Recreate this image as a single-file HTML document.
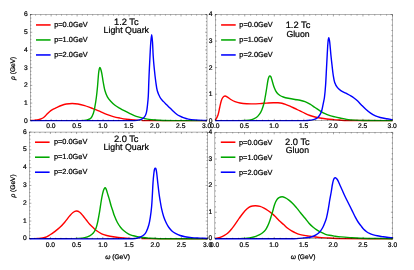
<!DOCTYPE html>
<html><head><meta charset="utf-8"><title>Spectral functions</title>
<style>
html,body{margin:0;padding:0;background:#fff;}
body{width:414px;height:270px;overflow:hidden;}
svg{display:block;will-change:transform;}
text{font-family:"Liberation Sans",sans-serif;fill:#000;text-rendering:geometricPrecision;stroke:#000;stroke-width:0.22px;}
</style></head><body>
<svg width="414" height="270" viewBox="0 0 414 270">
<rect width="414" height="270" fill="#fff"/>
<clipPath id="c1"><path d="M28.35 12.55H209.00V123.80H141.50V119.97H28.35Z"/></clipPath>
<path d="M30.35 120.55C31.57 120.48 32.79 120.47 34.00 120.35C35.47 120.20 36.98 120.10 38.40 119.72C39.94 119.32 41.55 118.82 42.90 118.00C44.15 117.24 45.12 116.03 46.20 115.00C47.32 113.93 48.34 112.74 49.50 111.70C50.28 111.00 51.10 110.32 52.00 109.80C53.43 108.98 55.00 108.39 56.50 107.70C58.10 106.96 59.66 106.12 61.30 105.50C62.92 104.89 64.60 104.31 66.30 104.00C68.23 103.65 70.23 103.50 72.20 103.50C74.13 103.50 76.09 103.68 78.00 104.00C80.26 104.38 82.50 104.94 84.70 105.60C86.94 106.27 89.10 107.20 91.30 108.00C92.97 108.60 94.65 109.16 96.30 109.80C97.55 110.29 98.77 110.87 100.00 111.40C102.23 112.37 104.44 113.41 106.70 114.30C108.87 115.15 111.06 115.96 113.30 116.60C115.50 117.23 117.75 117.66 120.00 118.10C122.22 118.54 124.45 118.95 126.70 119.22C130.02 119.63 133.36 119.90 136.70 120.12C140.46 120.38 144.23 120.62 148.00 120.65C167.66 120.80 187.33 120.65 207.00 120.65" fill="none" stroke="#ff0000" stroke-width="1.40" stroke-linejoin="round" clip-path="url(#c1)"/>
<path d="M79.00 120.65C80.70 120.58 82.42 120.64 84.10 120.45C85.45 120.30 86.81 120.04 88.10 119.62C89.05 119.32 90.18 119.03 90.80 118.30C91.91 116.99 92.70 115.19 93.30 113.50C94.07 111.32 94.47 108.99 94.90 106.70C95.50 103.49 95.98 100.24 96.40 97.00C96.85 93.58 97.18 90.14 97.50 86.70C97.91 82.24 98.15 77.76 98.60 73.30C98.75 71.79 98.97 70.27 99.30 68.80C99.40 68.34 99.69 67.50 99.90 67.50C100.12 67.50 100.45 68.33 100.60 68.80C101.08 70.27 101.50 71.78 101.80 73.30C102.37 76.18 102.68 79.11 103.20 82.00C103.71 84.84 104.11 87.73 104.90 90.50C105.51 92.66 106.33 94.83 107.40 96.80C108.27 98.40 109.48 99.84 110.70 101.20C112.02 102.67 113.44 104.11 115.00 105.30C116.54 106.47 118.32 107.33 120.00 108.30C121.55 109.20 123.12 110.05 124.70 110.90C126.29 111.75 127.89 112.59 129.50 113.40C131.09 114.19 132.66 115.04 134.30 115.70C135.82 116.31 137.42 116.76 139.00 117.20C140.65 117.66 142.33 118.03 144.00 118.40C145.66 118.77 147.32 119.18 149.00 119.42C150.99 119.72 153.00 119.88 155.00 120.03C157.66 120.22 160.33 120.37 163.00 120.45C167.00 120.56 171.00 120.58 175.00 120.60C185.67 120.65 196.33 120.63 207.00 120.65" fill="none" stroke="#00a800" stroke-width="1.40" stroke-linejoin="round" clip-path="url(#c1)"/>
<path d="M30.35 120.65C63.57 120.65 96.79 120.74 130.00 120.65C132.34 120.64 134.70 120.65 137.00 120.35C138.63 120.14 140.34 119.82 141.80 119.12C142.91 118.60 143.99 117.70 144.70 116.70C145.52 115.55 146.07 114.10 146.40 112.70C147.00 110.20 147.21 107.58 147.50 105.00C147.84 102.01 148.13 99.01 148.30 96.00C148.56 91.34 148.62 86.67 148.80 82.00C148.98 77.33 149.18 72.67 149.40 68.00C149.58 64.00 149.78 60.00 150.00 56.00C150.25 51.33 150.43 46.66 150.80 42.00C150.99 39.56 151.42 34.70 151.70 34.70C151.98 34.70 152.33 39.56 152.50 42.00C152.83 46.66 152.90 51.34 153.20 56.00C153.46 60.00 153.80 64.01 154.20 68.00C154.67 72.67 155.17 77.35 155.80 82.00C156.20 84.95 156.51 87.95 157.30 90.80C157.94 93.12 158.92 95.42 160.10 97.50C160.92 98.95 162.17 100.15 163.30 101.40C164.37 102.59 165.56 103.68 166.70 104.80C167.79 105.88 168.91 106.92 170.00 108.00C171.11 109.09 172.16 110.24 173.30 111.30C174.39 112.31 175.50 113.32 176.70 114.20C177.73 114.96 178.87 115.60 180.00 116.20C181.07 116.77 182.16 117.30 183.30 117.70C184.93 118.27 186.60 118.80 188.30 119.12C190.50 119.54 192.76 119.75 195.00 119.92C198.99 120.23 203.00 120.34 207.00 120.55" fill="none" stroke="#0000ff" stroke-width="1.40" stroke-linejoin="round"/>
<rect x="30.35" y="14.55" width="176.65" height="106.25" fill="none" stroke="#000" stroke-width="0.30"/>
<path d="M30.35 120.80v-1.10M30.35 14.55v1.10M35.55 120.80v-1.10M35.55 14.55v1.10M40.74 120.80v-1.10M40.74 14.55v1.10M45.94 120.80v-1.10M45.94 14.55v1.10M51.13 120.80v-1.90M51.13 14.55v1.90M56.33 120.80v-1.10M56.33 14.55v1.10M61.52 120.80v-1.10M61.52 14.55v1.10M66.72 120.80v-1.10M66.72 14.55v1.10M71.91 120.80v-1.10M71.91 14.55v1.10M77.11 120.80v-1.90M77.11 14.55v1.90M82.31 120.80v-1.10M82.31 14.55v1.10M87.50 120.80v-1.10M87.50 14.55v1.10M92.70 120.80v-1.10M92.70 14.55v1.10M97.89 120.80v-1.10M97.89 14.55v1.10M103.09 120.80v-1.90M103.09 14.55v1.90M108.28 120.80v-1.10M108.28 14.55v1.10M113.48 120.80v-1.10M113.48 14.55v1.10M118.68 120.80v-1.10M118.68 14.55v1.10M123.87 120.80v-1.10M123.87 14.55v1.10M129.07 120.80v-1.90M129.07 14.55v1.90M134.26 120.80v-1.10M134.26 14.55v1.10M139.46 120.80v-1.10M139.46 14.55v1.10M144.65 120.80v-1.10M144.65 14.55v1.10M149.85 120.80v-1.10M149.85 14.55v1.10M155.04 120.80v-1.90M155.04 14.55v1.90M160.24 120.80v-1.10M160.24 14.55v1.10M165.44 120.80v-1.10M165.44 14.55v1.10M170.63 120.80v-1.10M170.63 14.55v1.10M175.83 120.80v-1.10M175.83 14.55v1.10M181.02 120.80v-1.90M181.02 14.55v1.90M186.22 120.80v-1.10M186.22 14.55v1.10M191.41 120.80v-1.10M191.41 14.55v1.10M196.61 120.80v-1.10M196.61 14.55v1.10M201.80 120.80v-1.10M201.80 14.55v1.10M207.00 120.80v-1.90M207.00 14.55v1.90M30.35 120.80h1.90M207.00 120.80h-1.90M30.35 117.26h1.10M207.00 117.26h-1.10M30.35 113.72h1.10M207.00 113.72h-1.10M30.35 110.17h1.10M207.00 110.17h-1.10M30.35 106.63h1.10M207.00 106.63h-1.10M30.35 103.09h1.90M207.00 103.09h-1.90M30.35 99.55h1.10M207.00 99.55h-1.10M30.35 96.01h1.10M207.00 96.01h-1.10M30.35 92.47h1.10M207.00 92.47h-1.10M30.35 88.92h1.10M207.00 88.92h-1.10M30.35 85.38h1.90M207.00 85.38h-1.90M30.35 81.84h1.10M207.00 81.84h-1.10M30.35 78.30h1.10M207.00 78.30h-1.10M30.35 74.76h1.10M207.00 74.76h-1.10M30.35 71.22h1.10M207.00 71.22h-1.10M30.35 67.67h1.90M207.00 67.67h-1.90M30.35 64.13h1.10M207.00 64.13h-1.10M30.35 60.59h1.10M207.00 60.59h-1.10M30.35 57.05h1.10M207.00 57.05h-1.10M30.35 53.51h1.10M207.00 53.51h-1.10M30.35 49.97h1.90M207.00 49.97h-1.90M30.35 46.42h1.10M207.00 46.42h-1.10M30.35 42.88h1.10M207.00 42.88h-1.10M30.35 39.34h1.10M207.00 39.34h-1.10M30.35 35.80h1.10M207.00 35.80h-1.10M30.35 32.26h1.90M207.00 32.26h-1.90M30.35 28.72h1.10M207.00 28.72h-1.10M30.35 25.17h1.10M207.00 25.17h-1.10M30.35 21.63h1.10M207.00 21.63h-1.10M30.35 18.09h1.10M207.00 18.09h-1.10M30.35 14.55h1.90M207.00 14.55h-1.90" fill="none" stroke="#000" stroke-width="0.35"/>
<text x="50.83" y="128.25" font-size="6.70" text-anchor="middle">0.0</text>
<text x="76.81" y="128.25" font-size="6.70" text-anchor="middle">0.5</text>
<text x="102.79" y="128.25" font-size="6.70" text-anchor="middle">1.0</text>
<text x="128.77" y="128.25" font-size="6.70" text-anchor="middle">1.5</text>
<text x="154.74" y="128.25" font-size="6.70" text-anchor="middle">2.0</text>
<text x="180.72" y="128.25" font-size="6.70" text-anchor="middle">2.5</text>
<text x="206.70" y="128.25" font-size="6.70" text-anchor="middle">3.0</text>
<text x="27.75" y="122.71" font-size="6.70" text-anchor="end">0</text>
<text x="27.75" y="105.00" font-size="6.70" text-anchor="end">1</text>
<text x="27.75" y="87.30" font-size="6.70" text-anchor="end">2</text>
<text x="27.75" y="69.59" font-size="6.70" text-anchor="end">3</text>
<text x="27.75" y="51.88" font-size="6.70" text-anchor="end">4</text>
<text x="27.75" y="34.17" font-size="6.70" text-anchor="end">5</text>
<text x="27.75" y="16.46" font-size="6.70" text-anchor="end">6</text>
<path d="M36.00 24.95H50.60" stroke="#ff0000" stroke-width="1.55"/>
<text x="54.20" y="27.26" font-size="7.40">p=0.0GeV</text>
<path d="M36.00 39.95H50.60" stroke="#00a800" stroke-width="1.55"/>
<text x="54.20" y="42.26" font-size="7.40">p=1.0GeV</text>
<path d="M36.00 54.95H50.60" stroke="#0000ff" stroke-width="1.55"/>
<text x="54.20" y="57.26" font-size="7.40">p=2.0GeV</text>
<text x="126.30" y="24.70" font-size="9.30" text-anchor="middle">1.2 Tc</text>
<text x="126.30" y="32.70" font-size="8.80" text-anchor="middle">Light Quark</text>
<text transform="translate(15.30 68.30) rotate(-90)" font-size="6.60" text-anchor="middle"><tspan font-style="italic">ρ</tspan> (GeV)</text>
<clipPath id="c2"><path d="M213.20 12.55H394.50V123.70H314.50V119.97H213.20Z"/></clipPath>
<path d="M215.20 120.75C216.13 118.83 217.32 117.01 218.00 115.00C218.82 112.59 219.12 110.00 219.70 107.50C220.22 105.26 220.61 102.98 221.30 100.80C221.68 99.61 222.16 98.36 222.90 97.40C223.40 96.76 224.26 96.05 225.00 96.00C225.80 95.95 226.72 96.63 227.50 97.10C228.66 97.80 229.64 98.80 230.80 99.50C232.14 100.30 233.54 101.05 235.00 101.60C236.61 102.21 238.30 102.68 240.00 103.00C242.20 103.41 244.46 103.65 246.70 103.80C248.89 103.95 251.10 103.93 253.30 103.90C255.53 103.87 257.77 103.73 260.00 103.60C262.24 103.47 264.47 103.25 266.70 103.10C268.90 102.95 271.10 102.76 273.30 102.70C274.87 102.66 276.44 102.69 278.00 102.80C279.34 102.89 280.69 103.01 282.00 103.30C283.36 103.61 284.68 104.12 286.00 104.60C287.35 105.09 288.68 105.63 290.00 106.20C291.68 106.93 293.33 107.73 295.00 108.50C296.67 109.27 298.35 109.99 300.00 110.80C301.69 111.63 303.30 112.60 305.00 113.40C306.63 114.17 308.30 114.89 310.00 115.50C311.63 116.09 313.31 116.58 315.00 117.00C316.65 117.41 318.33 117.71 320.00 118.00C322.23 118.39 324.46 118.75 326.70 119.03C328.89 119.29 331.10 119.45 333.30 119.62C335.20 119.78 337.10 119.91 339.00 120.03C341.57 120.18 344.13 120.42 346.70 120.45C361.96 120.63 377.23 120.58 392.50 120.65" fill="none" stroke="#ff0000" stroke-width="1.40" stroke-linejoin="round" clip-path="url(#c2)"/>
<path d="M239.00 120.65C240.83 120.62 242.67 120.68 244.50 120.55C246.67 120.40 248.91 120.36 251.00 119.83C252.85 119.35 254.72 118.55 256.30 117.50C257.55 116.67 258.60 115.42 259.50 114.20C260.44 112.92 261.19 111.47 261.80 110.00C262.69 107.84 263.41 105.57 264.00 103.30C264.54 101.24 264.82 99.10 265.20 97.00C265.62 94.67 266.02 92.34 266.40 90.00C266.95 86.67 267.35 83.31 268.00 80.00C268.22 78.91 268.54 77.79 269.00 76.80C269.17 76.42 269.59 75.92 269.90 75.90C270.19 75.88 270.61 76.36 270.80 76.70C271.21 77.46 271.43 78.36 271.70 79.20C272.57 81.96 273.19 84.80 274.20 87.50C274.85 89.24 275.62 91.02 276.70 92.50C277.56 93.68 278.79 94.67 280.00 95.50C280.99 96.17 282.16 96.62 283.30 97.00C284.93 97.55 286.62 97.94 288.30 98.30C290.52 98.77 292.76 99.14 295.00 99.50C296.66 99.77 298.36 99.85 300.00 100.20C301.69 100.55 303.40 100.96 305.00 101.60C306.73 102.29 308.38 103.25 310.00 104.20C311.72 105.21 313.33 106.40 315.00 107.50C316.67 108.60 318.30 109.75 320.00 110.80C321.64 111.81 323.27 112.87 325.00 113.70C326.60 114.47 328.30 115.06 330.00 115.60C331.64 116.12 333.33 116.50 335.00 116.90C336.66 117.30 338.33 117.65 340.00 118.00C342.23 118.46 344.45 119.01 346.70 119.33C349.45 119.71 352.23 119.92 355.00 120.12C357.76 120.33 360.53 120.51 363.30 120.55C373.03 120.69 382.77 120.62 392.50 120.65" fill="none" stroke="#00a800" stroke-width="1.40" stroke-linejoin="round" clip-path="url(#c2)"/>
<path d="M215.20 120.65C243.47 120.65 271.73 120.71 300.00 120.65C302.50 120.64 305.02 120.68 307.50 120.45C309.78 120.24 312.12 119.95 314.30 119.33C315.55 118.97 316.82 118.33 317.80 117.50C318.82 116.63 319.64 115.40 320.30 114.20C321.01 112.90 321.50 111.44 321.90 110.00C322.50 107.81 322.85 105.54 323.30 103.30C323.72 101.20 324.23 99.12 324.50 97.00C325.00 93.02 325.32 89.01 325.60 85.00C325.99 79.44 326.20 73.87 326.50 68.30C326.74 63.87 326.95 59.43 327.20 55.00C327.45 50.67 327.60 46.32 328.00 42.00C328.13 40.55 328.52 37.70 328.80 37.70C329.08 37.70 329.52 40.55 329.70 42.00C330.22 46.31 330.47 50.67 330.90 55.00C331.23 58.34 331.62 61.67 332.00 65.00C332.38 68.34 332.69 71.68 333.20 75.00C333.59 77.52 333.89 80.11 334.70 82.50C335.32 84.34 336.33 86.15 337.50 87.70C338.37 88.85 339.59 89.80 340.80 90.60C342.35 91.63 344.14 92.32 345.80 93.20C347.47 94.09 349.17 94.94 350.80 95.90C351.90 96.54 352.98 97.23 354.00 98.00C355.28 98.97 356.53 100.00 357.70 101.10C359.07 102.40 360.27 103.86 361.60 105.20C362.97 106.59 364.34 108.00 365.80 109.30C367.34 110.67 368.91 112.04 370.60 113.20C372.11 114.24 373.73 115.15 375.40 115.90C376.93 116.59 378.57 117.08 380.20 117.50C382.34 118.05 384.52 118.42 386.70 118.80C388.62 119.13 390.57 119.35 392.50 119.62" fill="none" stroke="#0000ff" stroke-width="1.40" stroke-linejoin="round"/>
<rect x="215.20" y="14.55" width="177.30" height="106.15" fill="none" stroke="#000" stroke-width="0.30"/>
<path d="M215.20 120.70v-1.90M215.20 14.55v1.90M221.11 120.70v-1.10M221.11 14.55v1.10M227.02 120.70v-1.10M227.02 14.55v1.10M232.93 120.70v-1.10M232.93 14.55v1.10M238.84 120.70v-1.10M238.84 14.55v1.10M244.75 120.70v-1.90M244.75 14.55v1.90M250.66 120.70v-1.10M250.66 14.55v1.10M256.57 120.70v-1.10M256.57 14.55v1.10M262.48 120.70v-1.10M262.48 14.55v1.10M268.39 120.70v-1.10M268.39 14.55v1.10M274.30 120.70v-1.90M274.30 14.55v1.90M280.21 120.70v-1.10M280.21 14.55v1.10M286.12 120.70v-1.10M286.12 14.55v1.10M292.03 120.70v-1.10M292.03 14.55v1.10M297.94 120.70v-1.10M297.94 14.55v1.10M303.85 120.70v-1.90M303.85 14.55v1.90M309.76 120.70v-1.10M309.76 14.55v1.10M315.67 120.70v-1.10M315.67 14.55v1.10M321.58 120.70v-1.10M321.58 14.55v1.10M327.49 120.70v-1.10M327.49 14.55v1.10M333.40 120.70v-1.90M333.40 14.55v1.90M339.31 120.70v-1.10M339.31 14.55v1.10M345.22 120.70v-1.10M345.22 14.55v1.10M351.13 120.70v-1.10M351.13 14.55v1.10M357.04 120.70v-1.10M357.04 14.55v1.10M362.95 120.70v-1.90M362.95 14.55v1.90M368.86 120.70v-1.10M368.86 14.55v1.10M374.77 120.70v-1.10M374.77 14.55v1.10M380.68 120.70v-1.10M380.68 14.55v1.10M386.59 120.70v-1.10M386.59 14.55v1.10M392.50 120.70v-1.90M392.50 14.55v1.90M215.20 120.70h1.90M392.50 120.70h-1.90M215.20 115.39h1.10M392.50 115.39h-1.10M215.20 110.09h1.10M392.50 110.09h-1.10M215.20 104.78h1.10M392.50 104.78h-1.10M215.20 99.47h1.10M392.50 99.47h-1.10M215.20 94.16h1.90M392.50 94.16h-1.90M215.20 88.86h1.10M392.50 88.86h-1.10M215.20 83.55h1.10M392.50 83.55h-1.10M215.20 78.24h1.10M392.50 78.24h-1.10M215.20 72.93h1.10M392.50 72.93h-1.10M215.20 67.62h1.90M392.50 67.62h-1.90M215.20 62.32h1.10M392.50 62.32h-1.10M215.20 57.01h1.10M392.50 57.01h-1.10M215.20 51.70h1.10M392.50 51.70h-1.10M215.20 46.40h1.10M392.50 46.40h-1.10M215.20 41.09h1.90M392.50 41.09h-1.90M215.20 35.78h1.10M392.50 35.78h-1.10M215.20 30.47h1.10M392.50 30.47h-1.10M215.20 25.16h1.10M392.50 25.16h-1.10M215.20 19.86h1.10M392.50 19.86h-1.10M215.20 14.55h1.90M392.50 14.55h-1.90" fill="none" stroke="#000" stroke-width="0.35"/>
<text x="214.90" y="128.25" font-size="6.70" text-anchor="middle">0.0</text>
<text x="244.45" y="128.25" font-size="6.70" text-anchor="middle">0.5</text>
<text x="274.00" y="128.25" font-size="6.70" text-anchor="middle">1.0</text>
<text x="303.55" y="128.25" font-size="6.70" text-anchor="middle">1.5</text>
<text x="333.10" y="128.25" font-size="6.70" text-anchor="middle">2.0</text>
<text x="362.65" y="128.25" font-size="6.70" text-anchor="middle">2.5</text>
<text x="392.20" y="128.25" font-size="6.70" text-anchor="middle">3.0</text>
<text x="212.60" y="122.61" font-size="6.70" text-anchor="end">0</text>
<text x="212.60" y="96.07" font-size="6.70" text-anchor="end">1</text>
<text x="212.60" y="69.54" font-size="6.70" text-anchor="end">2</text>
<text x="212.60" y="43.00" font-size="6.70" text-anchor="end">3</text>
<text x="212.60" y="16.46" font-size="6.70" text-anchor="end">4</text>
<path d="M221.10 24.95H235.70" stroke="#ff0000" stroke-width="1.55"/>
<text x="239.30" y="27.26" font-size="7.40">p=0.0GeV</text>
<path d="M221.10 39.95H235.70" stroke="#00a800" stroke-width="1.55"/>
<text x="239.30" y="42.26" font-size="7.40">p=1.0GeV</text>
<path d="M221.10 54.95H235.70" stroke="#0000ff" stroke-width="1.55"/>
<text x="239.30" y="57.26" font-size="7.40">p=2.0GeV</text>
<text x="298.00" y="27.70" font-size="9.30" text-anchor="middle">1.2 Tc</text>
<text x="298.00" y="36.70" font-size="8.70" text-anchor="middle">Gluon</text>
<clipPath id="c3"><path d="M27.45 130.05H209.55V241.85H141.50V238.12H27.45Z"/></clipPath>
<path d="M29.45 238.80C30.97 238.77 32.48 238.75 34.00 238.70C35.33 238.65 36.67 238.65 38.00 238.50C40.24 238.25 42.56 238.14 44.70 237.50C46.46 236.97 48.10 235.94 49.70 235.00C51.43 233.98 53.08 232.80 54.70 231.60C56.41 230.33 58.15 229.06 59.70 227.60C61.48 225.92 63.11 224.06 64.70 222.20C66.44 220.16 67.96 217.93 69.70 215.90C70.73 214.70 71.75 213.43 73.00 212.50C73.95 211.79 75.18 211.05 76.30 211.00C77.41 210.95 78.75 211.52 79.70 212.20C80.98 213.12 81.95 214.56 83.00 215.80C84.15 217.16 85.20 218.60 86.30 220.00C87.43 221.44 88.48 222.94 89.70 224.30C90.82 225.54 92.07 226.66 93.30 227.80C94.41 228.83 95.48 229.91 96.70 230.80C98.28 231.95 99.94 233.07 101.70 233.90C103.27 234.64 105.01 235.08 106.70 235.50C108.87 236.04 111.08 236.47 113.30 236.80C116.62 237.30 119.96 237.70 123.30 238.00C126.62 238.30 129.96 238.57 133.30 238.60C158.04 238.83 182.80 238.73 207.55 238.80" fill="none" stroke="#ff0000" stroke-width="1.40" stroke-linejoin="round" clip-path="url(#c3)"/>
<path d="M72.00 238.80C74.00 238.70 76.01 238.69 78.00 238.50C80.24 238.29 82.52 238.10 84.70 237.60C86.42 237.20 88.16 236.63 89.70 235.80C91.02 235.09 92.33 234.14 93.30 233.00C94.40 231.70 95.27 230.10 95.90 228.50C96.77 226.27 97.28 223.86 97.80 221.50C98.51 218.26 99.05 214.98 99.60 211.70C100.08 208.81 100.44 205.90 100.90 203.00C101.24 200.86 101.58 198.72 102.00 196.60C102.38 194.72 102.77 192.84 103.30 191.00C103.54 190.17 103.88 189.34 104.30 188.60C104.48 188.28 104.83 187.80 105.10 187.80C105.37 187.80 105.73 188.27 105.90 188.60C106.29 189.34 106.53 190.19 106.80 191.00C107.23 192.32 107.59 193.67 108.00 195.00C108.46 196.50 108.97 197.99 109.40 199.50C109.97 201.49 110.41 203.52 111.00 205.50C111.51 207.19 112.15 208.83 112.70 210.50C113.19 211.99 113.53 213.54 114.10 215.00C115.09 217.54 116.13 220.09 117.40 222.50C118.33 224.26 119.47 225.93 120.70 227.50C121.64 228.70 122.73 229.82 123.90 230.80C125.40 232.05 126.98 233.31 128.70 234.20C130.21 234.98 131.94 235.35 133.60 235.80C135.71 236.38 137.84 236.96 140.00 237.30C142.74 237.73 145.53 237.90 148.30 238.10C151.86 238.36 155.43 238.66 159.00 238.70C175.18 238.89 191.37 238.77 207.55 238.80" fill="none" stroke="#00a800" stroke-width="1.40" stroke-linejoin="round" clip-path="url(#c3)"/>
<path d="M29.45 238.80C62.30 238.80 95.15 238.89 128.00 238.80C130.44 238.79 132.91 238.85 135.30 238.50C137.04 238.25 138.77 237.67 140.40 237.00C141.61 236.50 142.84 235.86 143.80 235.00C144.81 234.10 145.69 232.92 146.30 231.70C147.36 229.59 148.17 227.29 148.80 225.00C149.54 222.29 149.97 219.48 150.40 216.70C150.91 213.38 151.29 210.04 151.60 206.70C151.93 203.14 152.09 199.57 152.30 196.00C152.56 191.67 152.70 187.33 153.00 183.00C153.23 179.66 153.52 176.32 153.90 173.00C154.05 171.66 154.24 170.28 154.60 169.00C154.70 168.64 155.07 168.10 155.30 168.10C155.53 168.10 155.90 168.64 156.00 169.00C156.36 170.28 156.53 171.66 156.70 173.00C157.13 176.32 157.42 179.67 157.80 183.00C158.22 186.67 158.61 190.34 159.10 194.00C159.41 196.34 159.81 198.67 160.20 201.00C160.61 203.44 160.96 205.89 161.50 208.30C162.13 211.12 162.80 213.95 163.70 216.70C164.44 218.95 165.37 221.16 166.40 223.30C167.10 224.76 167.94 226.19 168.90 227.50C169.87 228.83 170.98 230.11 172.20 231.20C173.14 232.04 174.28 232.70 175.40 233.30C176.95 234.13 178.55 234.91 180.20 235.50C181.75 236.05 183.38 236.40 185.00 236.70C187.21 237.10 189.46 237.39 191.70 237.60C194.46 237.86 197.23 237.94 200.00 238.10C202.52 238.24 205.03 238.37 207.55 238.50" fill="none" stroke="#0000ff" stroke-width="1.40" stroke-linejoin="round"/>
<rect x="29.45" y="132.05" width="178.10" height="106.80" fill="none" stroke="#000" stroke-width="0.30"/>
<path d="M29.45 238.85v-1.10M29.45 132.05v1.10M34.69 238.85v-1.10M34.69 132.05v1.10M39.93 238.85v-1.10M39.93 132.05v1.10M45.16 238.85v-1.10M45.16 132.05v1.10M50.40 238.85v-1.90M50.40 132.05v1.90M55.64 238.85v-1.10M55.64 132.05v1.10M60.88 238.85v-1.10M60.88 132.05v1.10M66.12 238.85v-1.10M66.12 132.05v1.10M71.36 238.85v-1.10M71.36 132.05v1.10M76.59 238.85v-1.90M76.59 132.05v1.90M81.83 238.85v-1.10M81.83 132.05v1.10M87.07 238.85v-1.10M87.07 132.05v1.10M92.31 238.85v-1.10M92.31 132.05v1.10M97.55 238.85v-1.10M97.55 132.05v1.10M102.79 238.85v-1.90M102.79 132.05v1.90M108.02 238.85v-1.10M108.02 132.05v1.10M113.26 238.85v-1.10M113.26 132.05v1.10M118.50 238.85v-1.10M118.50 132.05v1.10M123.74 238.85v-1.10M123.74 132.05v1.10M128.98 238.85v-1.90M128.98 132.05v1.90M134.21 238.85v-1.10M134.21 132.05v1.10M139.45 238.85v-1.10M139.45 132.05v1.10M144.69 238.85v-1.10M144.69 132.05v1.10M149.93 238.85v-1.10M149.93 132.05v1.10M155.17 238.85v-1.90M155.17 132.05v1.90M160.41 238.85v-1.10M160.41 132.05v1.10M165.64 238.85v-1.10M165.64 132.05v1.10M170.88 238.85v-1.10M170.88 132.05v1.10M176.12 238.85v-1.10M176.12 132.05v1.10M181.36 238.85v-1.90M181.36 132.05v1.90M186.60 238.85v-1.10M186.60 132.05v1.10M191.84 238.85v-1.10M191.84 132.05v1.10M197.07 238.85v-1.10M197.07 132.05v1.10M202.31 238.85v-1.10M202.31 132.05v1.10M207.55 238.85v-1.90M207.55 132.05v1.90M29.45 238.85h1.90M207.55 238.85h-1.90M29.45 235.29h1.10M207.55 235.29h-1.10M29.45 231.73h1.10M207.55 231.73h-1.10M29.45 228.17h1.10M207.55 228.17h-1.10M29.45 224.61h1.10M207.55 224.61h-1.10M29.45 221.05h1.90M207.55 221.05h-1.90M29.45 217.49h1.10M207.55 217.49h-1.10M29.45 213.93h1.10M207.55 213.93h-1.10M29.45 210.37h1.10M207.55 210.37h-1.10M29.45 206.81h1.10M207.55 206.81h-1.10M29.45 203.25h1.90M207.55 203.25h-1.90M29.45 199.69h1.10M207.55 199.69h-1.10M29.45 196.13h1.10M207.55 196.13h-1.10M29.45 192.57h1.10M207.55 192.57h-1.10M29.45 189.01h1.10M207.55 189.01h-1.10M29.45 185.45h1.90M207.55 185.45h-1.90M29.45 181.89h1.10M207.55 181.89h-1.10M29.45 178.33h1.10M207.55 178.33h-1.10M29.45 174.77h1.10M207.55 174.77h-1.10M29.45 171.21h1.10M207.55 171.21h-1.10M29.45 167.65h1.90M207.55 167.65h-1.90M29.45 164.09h1.10M207.55 164.09h-1.10M29.45 160.53h1.10M207.55 160.53h-1.10M29.45 156.97h1.10M207.55 156.97h-1.10M29.45 153.41h1.10M207.55 153.41h-1.10M29.45 149.85h1.90M207.55 149.85h-1.90M29.45 146.29h1.10M207.55 146.29h-1.10M29.45 142.73h1.10M207.55 142.73h-1.10M29.45 139.17h1.10M207.55 139.17h-1.10M29.45 135.61h1.10M207.55 135.61h-1.10M29.45 132.05h1.90M207.55 132.05h-1.90" fill="none" stroke="#000" stroke-width="0.35"/>
<text x="50.40" y="246.75" font-size="6.70" text-anchor="middle">0.0</text>
<text x="76.59" y="246.75" font-size="6.70" text-anchor="middle">0.5</text>
<text x="102.79" y="246.75" font-size="6.70" text-anchor="middle">1.0</text>
<text x="128.98" y="246.75" font-size="6.70" text-anchor="middle">1.5</text>
<text x="155.17" y="246.75" font-size="6.70" text-anchor="middle">2.0</text>
<text x="181.36" y="246.75" font-size="6.70" text-anchor="middle">2.5</text>
<text x="207.55" y="246.75" font-size="6.70" text-anchor="middle">3.0</text>
<text x="26.85" y="240.36" font-size="6.70" text-anchor="end">0</text>
<text x="26.85" y="222.56" font-size="6.70" text-anchor="end">1</text>
<text x="26.85" y="204.76" font-size="6.70" text-anchor="end">2</text>
<text x="26.85" y="186.96" font-size="6.70" text-anchor="end">3</text>
<text x="26.85" y="169.16" font-size="6.70" text-anchor="end">4</text>
<text x="26.85" y="151.36" font-size="6.70" text-anchor="end">5</text>
<text x="26.85" y="133.56" font-size="6.70" text-anchor="end">6</text>
<path d="M35.00 142.20H49.60" stroke="#ff0000" stroke-width="1.55"/>
<text x="53.90" y="143.96" font-size="7.40">p=0.0GeV</text>
<path d="M35.00 157.20H49.60" stroke="#00a800" stroke-width="1.55"/>
<text x="53.90" y="158.96" font-size="7.40">p=1.0GeV</text>
<path d="M35.00 172.20H49.60" stroke="#0000ff" stroke-width="1.55"/>
<text x="53.90" y="173.96" font-size="7.40">p=2.0GeV</text>
<text x="126.20" y="141.70" font-size="9.30" text-anchor="middle">2.0 Tc</text>
<text x="126.20" y="149.70" font-size="8.80" text-anchor="middle">Light Quark</text>
<text x="117.60" y="259.00" font-size="6.65" text-anchor="middle"><tspan font-style="italic">ω</tspan> (GeV)</text>
<text transform="translate(14.50 185.90) rotate(-90)" font-size="6.60" text-anchor="middle"><tspan font-style="italic">ρ</tspan> (GeV)</text>
<clipPath id="c4"><path d="M212.90 130.40H394.80V241.85H311.50V238.12H212.90Z"/></clipPath>
<path d="M214.90 238.70C215.37 238.53 215.82 238.32 216.30 238.20C217.55 237.89 218.88 237.80 220.10 237.40C221.44 236.96 222.76 236.38 224.00 235.70C225.36 234.95 226.74 234.13 227.90 233.10C229.30 231.86 230.51 230.36 231.70 228.90C233.08 227.20 234.33 225.39 235.60 223.60C236.86 221.82 238.04 219.98 239.30 218.20C240.50 216.51 241.68 214.80 243.00 213.20C244.18 211.76 245.42 210.33 246.80 209.10C247.92 208.10 249.13 207.03 250.50 206.50C251.97 205.93 253.70 205.82 255.30 205.80C256.90 205.78 258.56 205.99 260.10 206.40C261.46 206.76 262.75 207.44 264.00 208.10C265.35 208.81 266.64 209.64 267.90 210.50C269.21 211.40 270.47 212.39 271.70 213.40C272.83 214.33 273.95 215.28 275.00 216.30C276.38 217.65 277.60 219.17 279.00 220.50C280.57 222.00 282.28 223.35 283.90 224.80C285.18 225.95 286.35 227.23 287.70 228.30C288.92 229.27 290.25 230.12 291.60 230.90C292.85 231.62 294.18 232.22 295.50 232.80C296.74 233.35 298.00 233.91 299.30 234.30C300.90 234.78 302.56 235.09 304.20 235.40C305.79 235.69 307.40 235.88 309.00 236.10C311.26 236.41 313.53 236.73 315.80 237.00C317.73 237.23 319.66 237.46 321.60 237.60C324.16 237.79 326.73 237.85 329.30 238.00C332.53 238.19 335.76 238.56 339.00 238.60C356.93 238.83 374.87 238.73 392.80 238.80" fill="none" stroke="#ff0000" stroke-width="1.40" stroke-linejoin="round" clip-path="url(#c4)"/>
<path d="M240.00 238.70C242.33 238.53 244.68 238.45 247.00 238.20C248.64 238.02 250.28 237.75 251.90 237.40C253.22 237.12 254.53 236.74 255.80 236.30C257.13 235.84 258.46 235.34 259.70 234.70C260.72 234.17 261.71 233.53 262.60 232.80C263.65 231.93 264.70 231.00 265.50 229.90C266.47 228.56 267.19 227.01 267.90 225.50C268.63 223.94 269.23 222.32 269.80 220.70C270.36 219.12 270.81 217.50 271.30 215.90C271.77 214.37 272.25 212.84 272.70 211.30C273.35 209.04 273.83 206.72 274.60 204.50C275.13 202.98 275.74 201.43 276.60 200.10C277.21 199.16 278.06 198.26 279.00 197.70C279.92 197.16 281.14 196.80 282.20 196.80C283.14 196.80 284.13 197.27 285.00 197.70C286.36 198.37 287.69 199.19 288.90 200.10C290.25 201.12 291.51 202.29 292.70 203.50C294.07 204.89 295.33 206.41 296.60 207.90C297.93 209.47 299.20 211.10 300.50 212.70C302.03 214.57 303.58 216.42 305.10 218.30C306.41 219.92 307.61 221.65 309.00 223.20C310.21 224.55 311.53 225.81 312.90 227.00C314.10 228.04 315.38 229.02 316.70 229.90C317.74 230.59 318.88 231.14 320.00 231.70C321.81 232.61 323.62 233.57 325.50 234.30C326.72 234.77 328.02 235.05 329.30 235.30C331.22 235.68 333.16 235.93 335.10 236.20C337.03 236.47 338.96 236.72 340.90 236.90C343.93 237.18 346.96 237.39 350.00 237.60C353.33 237.83 356.66 238.11 360.00 238.20C370.93 238.48 381.87 238.53 392.80 238.70" fill="none" stroke="#00a800" stroke-width="1.40" stroke-linejoin="round" clip-path="url(#c4)"/>
<path d="M214.90 238.80C239.93 238.80 264.97 238.86 290.00 238.80C292.33 238.79 294.67 238.75 297.00 238.60C299.41 238.45 301.80 238.14 304.20 237.90C306.13 237.71 308.10 237.67 310.00 237.30C311.34 237.04 312.66 236.56 313.90 236.00C315.23 235.40 316.55 234.68 317.70 233.80C318.78 232.98 319.77 231.97 320.60 230.90C321.53 229.70 322.31 228.36 323.00 227.00C323.78 225.46 324.38 223.82 325.00 222.20C325.55 220.75 326.13 219.30 326.50 217.80C327.26 214.70 327.83 211.54 328.40 208.40C328.93 205.51 329.30 202.59 329.80 199.70C330.27 196.96 330.83 194.24 331.30 191.50C331.70 189.17 331.97 186.82 332.40 184.50C332.67 183.02 332.97 181.53 333.40 180.10C333.60 179.43 333.89 178.72 334.30 178.20C334.52 177.92 334.98 177.63 335.30 177.70C335.78 177.80 336.33 178.27 336.70 178.70C337.30 179.40 337.78 180.26 338.20 181.10C338.91 182.53 339.45 184.04 340.10 185.50C340.85 187.17 341.65 188.83 342.40 190.50C343.12 192.09 343.77 193.72 344.50 195.30C345.23 196.88 346.03 198.44 346.80 200.00C347.76 201.94 348.73 203.87 349.70 205.80C350.67 207.73 351.64 209.66 352.60 211.60C353.51 213.43 354.35 215.30 355.30 217.10C356.18 218.76 357.08 220.42 358.10 222.00C358.98 223.36 360.01 224.61 361.00 225.90C361.88 227.05 362.70 228.26 363.70 229.30C364.57 230.20 365.58 230.98 366.60 231.70C367.51 232.34 368.48 232.94 369.50 233.40C370.75 233.97 372.08 234.39 373.40 234.80C374.65 235.19 375.92 235.53 377.20 235.80C378.82 236.13 380.46 236.35 382.10 236.60C383.70 236.85 385.29 237.13 386.90 237.30C388.86 237.50 390.83 237.57 392.80 237.70" fill="none" stroke="#0000ff" stroke-width="1.40" stroke-linejoin="round"/>
<rect x="214.90" y="132.40" width="177.90" height="106.45" fill="none" stroke="#000" stroke-width="0.30"/>
<path d="M214.90 238.85v-1.90M214.90 132.40v1.90M220.83 238.85v-1.10M220.83 132.40v1.10M226.76 238.85v-1.10M226.76 132.40v1.10M232.69 238.85v-1.10M232.69 132.40v1.10M238.62 238.85v-1.10M238.62 132.40v1.10M244.55 238.85v-1.90M244.55 132.40v1.90M250.48 238.85v-1.10M250.48 132.40v1.10M256.41 238.85v-1.10M256.41 132.40v1.10M262.34 238.85v-1.10M262.34 132.40v1.10M268.27 238.85v-1.10M268.27 132.40v1.10M274.20 238.85v-1.90M274.20 132.40v1.90M280.13 238.85v-1.10M280.13 132.40v1.10M286.06 238.85v-1.10M286.06 132.40v1.10M291.99 238.85v-1.10M291.99 132.40v1.10M297.92 238.85v-1.10M297.92 132.40v1.10M303.85 238.85v-1.90M303.85 132.40v1.90M309.78 238.85v-1.10M309.78 132.40v1.10M315.71 238.85v-1.10M315.71 132.40v1.10M321.64 238.85v-1.10M321.64 132.40v1.10M327.57 238.85v-1.10M327.57 132.40v1.10M333.50 238.85v-1.90M333.50 132.40v1.90M339.43 238.85v-1.10M339.43 132.40v1.10M345.36 238.85v-1.10M345.36 132.40v1.10M351.29 238.85v-1.10M351.29 132.40v1.10M357.22 238.85v-1.10M357.22 132.40v1.10M363.15 238.85v-1.90M363.15 132.40v1.90M369.08 238.85v-1.10M369.08 132.40v1.10M375.01 238.85v-1.10M375.01 132.40v1.10M380.94 238.85v-1.10M380.94 132.40v1.10M386.87 238.85v-1.10M386.87 132.40v1.10M392.80 238.85v-1.90M392.80 132.40v1.90M214.90 238.85h1.90M392.80 238.85h-1.90M214.90 233.53h1.10M392.80 233.53h-1.10M214.90 228.20h1.10M392.80 228.20h-1.10M214.90 222.88h1.10M392.80 222.88h-1.10M214.90 217.56h1.10M392.80 217.56h-1.10M214.90 212.24h1.90M392.80 212.24h-1.90M214.90 206.91h1.10M392.80 206.91h-1.10M214.90 201.59h1.10M392.80 201.59h-1.10M214.90 196.27h1.10M392.80 196.27h-1.10M214.90 190.95h1.10M392.80 190.95h-1.10M214.90 185.62h1.90M392.80 185.62h-1.90M214.90 180.30h1.10M392.80 180.30h-1.10M214.90 174.98h1.10M392.80 174.98h-1.10M214.90 169.66h1.10M392.80 169.66h-1.10M214.90 164.34h1.10M392.80 164.34h-1.10M214.90 159.01h1.90M392.80 159.01h-1.90M214.90 153.69h1.10M392.80 153.69h-1.10M214.90 148.37h1.10M392.80 148.37h-1.10M214.90 143.05h1.10M392.80 143.05h-1.10M214.90 137.72h1.10M392.80 137.72h-1.10M214.90 132.40h1.90M392.80 132.40h-1.90" fill="none" stroke="#000" stroke-width="0.35"/>
<text x="214.60" y="246.75" font-size="6.70" text-anchor="middle">0.0</text>
<text x="244.25" y="246.75" font-size="6.70" text-anchor="middle">0.5</text>
<text x="273.90" y="246.75" font-size="6.70" text-anchor="middle">1.0</text>
<text x="303.55" y="246.75" font-size="6.70" text-anchor="middle">1.5</text>
<text x="333.20" y="246.75" font-size="6.70" text-anchor="middle">2.0</text>
<text x="362.85" y="246.75" font-size="6.70" text-anchor="middle">2.5</text>
<text x="392.50" y="246.75" font-size="6.70" text-anchor="middle">3.0</text>
<text x="212.30" y="240.36" font-size="6.70" text-anchor="end">0</text>
<text x="212.30" y="213.75" font-size="6.70" text-anchor="end">1</text>
<text x="212.30" y="187.14" font-size="6.70" text-anchor="end">2</text>
<text x="212.30" y="160.52" font-size="6.70" text-anchor="end">3</text>
<text x="212.30" y="133.91" font-size="6.70" text-anchor="end">4</text>
<path d="M220.80 142.20H235.40" stroke="#ff0000" stroke-width="1.55"/>
<text x="239.00" y="144.51" font-size="7.40">p=0.0GeV</text>
<path d="M220.80 157.20H235.40" stroke="#00a800" stroke-width="1.55"/>
<text x="239.00" y="159.51" font-size="7.40">p=1.0GeV</text>
<path d="M220.80 172.20H235.40" stroke="#0000ff" stroke-width="1.55"/>
<text x="239.00" y="174.51" font-size="7.40">p=2.0GeV</text>
<text x="297.40" y="145.40" font-size="9.30" text-anchor="middle">2.0 Tc</text>
<text x="297.40" y="152.80" font-size="8.70" text-anchor="middle">Gluon</text>
<text x="303.00" y="259.00" font-size="6.65" text-anchor="middle"><tspan font-style="italic">ω</tspan> (GeV)</text>
</svg>
</body></html>
